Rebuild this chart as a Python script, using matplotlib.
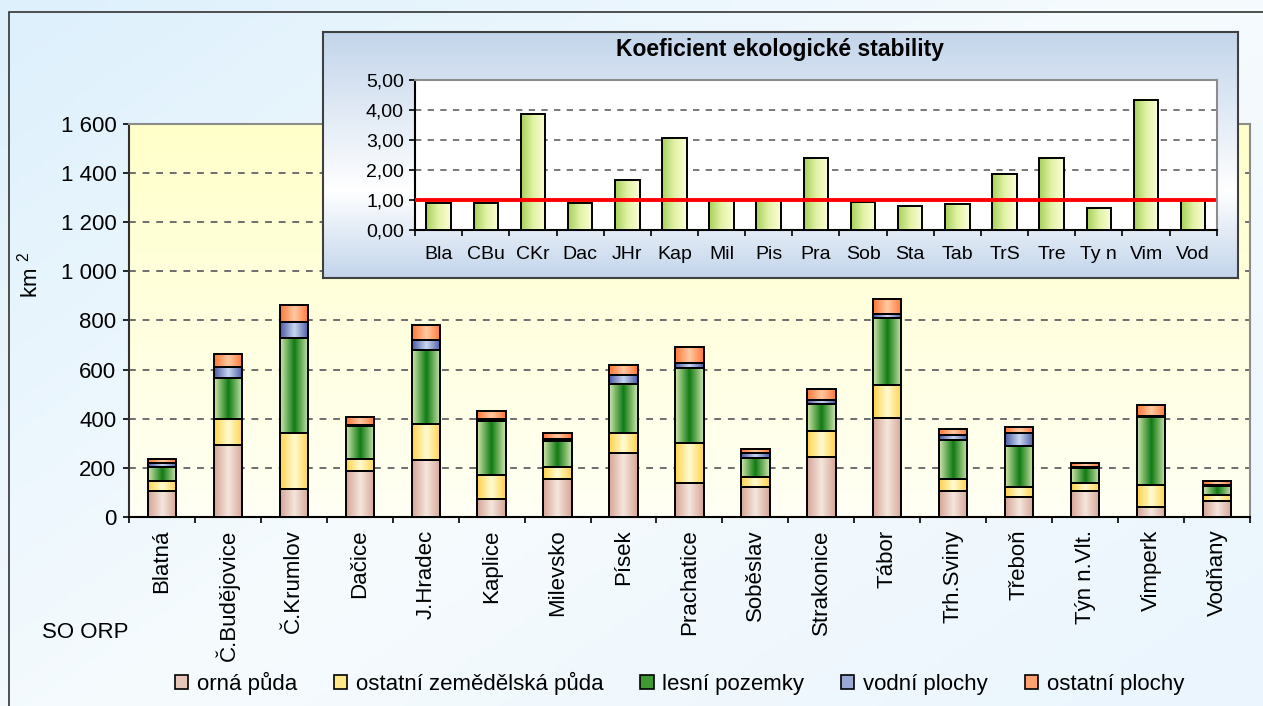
import numpy as np
import matplotlib
matplotlib.use("Agg")
import matplotlib.pyplot as plt
from matplotlib.colors import LinearSegmentedColormap
from matplotlib.patches import Patch, Rectangle
from matplotlib.ticker import FuncFormatter

plt.rcParams["font.family"] = ["Liberation Sans", "DejaVu Sans"]
plt.rcParams["mathtext.fontset"] = "custom"
plt.rcParams["mathtext.rm"] = "Liberation Sans"
plt.rcParams["mathtext.it"] = "Liberation Sans"

## data
orp = ["Blatná", "Č.Budějovice", "Č.Krumlov", "Dačice", "J.Hradec", "Kaplice",
       "Milevsko", "Písek", "Prachatice", "Soběslav", "Strakonice", "Tábor",
       "Trh.Sviny", "Třeboň", "Týn n.Vlt.", "Vimperk", "Vodňany"]
orna = [106, 292, 112, 187, 234, 72, 154, 260, 137, 121, 244, 405, 104, 80, 104, 41, 64]
ost_zem = [40, 106, 229, 48, 146, 99, 49, 80, 163, 41, 105, 131, 50, 42, 34, 89, 25]
lesni = [57, 168, 387, 137, 301, 219, 106, 203, 308, 80, 113, 276, 161, 169, 60, 277, 38]
vodni = [18, 43, 65, 3, 40, 9, 9, 34, 17, 19, 16, 16, 17, 50, 5, 6, 3]
ost_pl = [14, 56, 69, 31, 60, 31, 23, 40, 67, 17, 42, 59, 25, 24, 16, 41, 16]
series_names = ["orná půda", "ostatní zemědělská půda", "lesní pozemky",
                "vodní plochy", "ostatní plochy"]

kes_labels = ["Bla", "CBu", "CKr", "Dac", "JHr", "Kap", "Mil", "Pis", "Pra",
              "Sob", "Sta", "Tab", "TrS", "Tre", "Ty n", "Vim", "Vod"]
kes = [0.88, 0.88, 3.87, 0.88, 1.66, 3.07, 0.98, 0.98, 2.40, 0.93, 0.80, 0.87,
       1.87, 2.40, 0.73, 4.33, 0.98]
kes_limit = 1.0

## colours (edge -> centre -> edge)
grads = [["#d6a496", "#f4e6dc", "#d6a496"],
         ["#ffd24a", "#fffbd2", "#ffd24a"],
         ["#d2e7ae", "#0f7a12", "#d2e7ae"],
         ["#4a58a4", "#c8d8f0", "#4a58a4"],
         ["#ff7636", "#ffcaa2", "#ff7636"]]
legend_cols = ["#e6c6b8", "#ffe888", "#3f9a34", "#9aa8d6", "#ffa070"]


def gradient_bars(ax, x, heights, bottoms, width, colors, z, lw=1.4):
    cmap = LinearSegmentedColormap.from_list("g", colors)
    bars = ax.bar(x, heights, width, bottom=bottoms, facecolor="none",
                  edgecolor="black", linewidth=lw, zorder=z + 1)
    g = np.linspace(0, 1, 128)[None, :]
    for b in bars:
        x0, y0 = b.get_x(), b.get_y()
        ax.imshow(g, cmap=cmap, aspect="auto", interpolation="bilinear",
                  extent=(x0, x0 + b.get_width(), y0, y0 + b.get_height()), zorder=z)
    return bars


fig = plt.figure(figsize=(12.63, 7.06), dpi=100)

## figure background + frame
bg = fig.add_axes([0, 0, 1, 1], zorder=-10)
yy, xx = np.mgrid[0:1:200j, 0:1:200j]
bg_cmap = LinearSegmentedColormap.from_list("bg", ["#ddf0fc", "#f6fbfe", "#eaf5fd"])
bg.imshow(xx * 0.55 + yy * 0.45, cmap=bg_cmap, extent=(0, 1, 0, 1), aspect="auto")
bg.add_patch(Rectangle((9 / 1263, -0.05), 1.1, 1 - 12 / 706 + 0.05,
                       fill=False, ec="#333333", lw=1.2))
bg.set_xlim(0, 1)
bg.set_ylim(0, 1)
bg.axis("off")

## main chart
ax = fig.add_axes([0.1021, 0.2677, 0.8876, 0.5567], zorder=1)
ax.patch.set_visible(False)
x = np.arange(len(orp))
pa_cmap = LinearSegmentedColormap.from_list("pa", ["#ffffca", "#fffff4"])
ax.imshow(np.linspace(0, 1, 100)[:, None], cmap=pa_cmap, aspect="auto",
          extent=(-0.5, len(orp) - 0.5, 0, 1600), zorder=-2)

bottom = np.zeros(len(orp))
for vals, cols in zip([orna, ost_zem, lesni, vodni, ost_pl], grads):
    gradient_bars(ax, x, vals, bottom, 0.43, cols, 3)
    bottom = bottom + np.array(vals)

ax.set_xlim(-0.5, len(orp) - 0.5)
ax.set_ylim(0, 1600)
ax.set_yticks(range(0, 1601, 200))
ax.yaxis.set_major_formatter(FuncFormatter(lambda v, p: f"{int(v):,}".replace(",", " ")))
ax.set_xticks(x)
ax.set_xticklabels(orp, rotation=90, fontsize=16)
ax.set_xticks(np.arange(-0.5, len(orp), 1), minor=True)
ax.tick_params(axis="x", which="major", length=0, pad=9)
ax.tick_params(axis="x", which="minor", length=4, width=1.2, direction="out")
ax.tick_params(axis="y", length=4, width=1.2, pad=5, labelsize=16)
ax.set_axisbelow(True)
ax.yaxis.grid(True, ls=(0, (3.5, 3.5)), lw=1.4, color="#6e6e6e")
ax.spines["left"].set_color("#303030")
ax.spines["bottom"].set_color("black")
for s in ["top", "right"]:
    ax.spines[s].set_color("#8c8c8c")
for s in ax.spines.values():
    s.set_linewidth(1.5)

fig.text(30 / 1263, 1 - 275 / 706, "km $^{2}$", rotation=90, ha="center", va="center", fontsize=16)
fig.text(85 / 1263, 1 - 632 / 706, "SO ORP", ha="center", va="center", fontsize=16)

handles = [Patch(facecolor=c, edgecolor="black", lw=1.2) for c in legend_cols]
fig.legend(handles, series_names, loc="center", bbox_to_anchor=(0.538, 1 - 683 / 706),
           ncol=5, frameon=False, fontsize=16, handlelength=0.6, handleheight=0.6,
           handletextpad=0.4, columnspacing=1.65)

## KES inset frame
frame = fig.add_axes([0.2555, 0.6062, 0.7247, 0.3489], zorder=5)
fr_cmap = LinearSegmentedColormap.from_list("fr", [(0, "#c3d5eb"), (0.65, "#ffffff"), (1, "#c3d5eb")])
frame.imshow(np.linspace(0, 1, 200)[:, None], cmap=fr_cmap, aspect="auto", extent=(0, 1, 0, 1))
frame.set_xlim(0, 1)
frame.set_ylim(0, 1)
frame.set_xticks([])
frame.set_yticks([])
for s in frame.spines.values():
    s.set_color("#404040")
    s.set_linewidth(1.5)
frame.text(0.5, 0.926, "Koeficient ekologické stability", ha="center", va="center",
           fontsize=16.5, fontweight="bold", transform=frame.transAxes)

ax2 = fig.add_axes([0.3286, 0.6746, 0.6348, 0.2125], zorder=6)
ax2.set_facecolor("white")
gradient_bars(ax2, x, kes, 0, 0.52, ["#a6d05a", "#e2f2a6", "#fdfed8"], 3)
ax2.axhline(kes_limit, color="#ff0000", lw=2.8, zorder=10, xmax=0.996)
ax2.set_xlim(-0.5, len(kes) - 0.5)
ax2.set_ylim(0, 5)
ax2.set_yticks(range(0, 6))
ax2.yaxis.set_major_formatter(FuncFormatter(lambda v, p: f"{v:.2f}".replace(".", ",")))
ax2.set_xticks(x)
ax2.set_xticklabels(kes_labels, fontsize=14)
ax2.set_xticks(np.arange(-0.5, len(kes), 1), minor=True)
ax2.tick_params(axis="x", which="major", length=0, pad=12)
ax2.tick_params(axis="x", which="minor", length=4, width=1.2, direction="out")
ax2.tick_params(axis="y", length=4, width=1.2, pad=4, labelsize=14)
ax2.set_axisbelow(True)
ax2.yaxis.grid(True, ls=(0, (3.5, 3.5)), lw=1.3, color="#6e6e6e")
ax2.spines["left"].set_color("black")
ax2.spines["bottom"].set_color("black")
for s in ["top", "right"]:
    ax2.spines[s].set_color("#8c8c8c")
for s in ax2.spines.values():
    s.set_linewidth(1.5)
fig.text(338 / 1263, 1 - 155 / 706, "KES", rotation=90, ha="center", va="center", fontsize=14)

fig.savefig("out.png", dpi=100)
